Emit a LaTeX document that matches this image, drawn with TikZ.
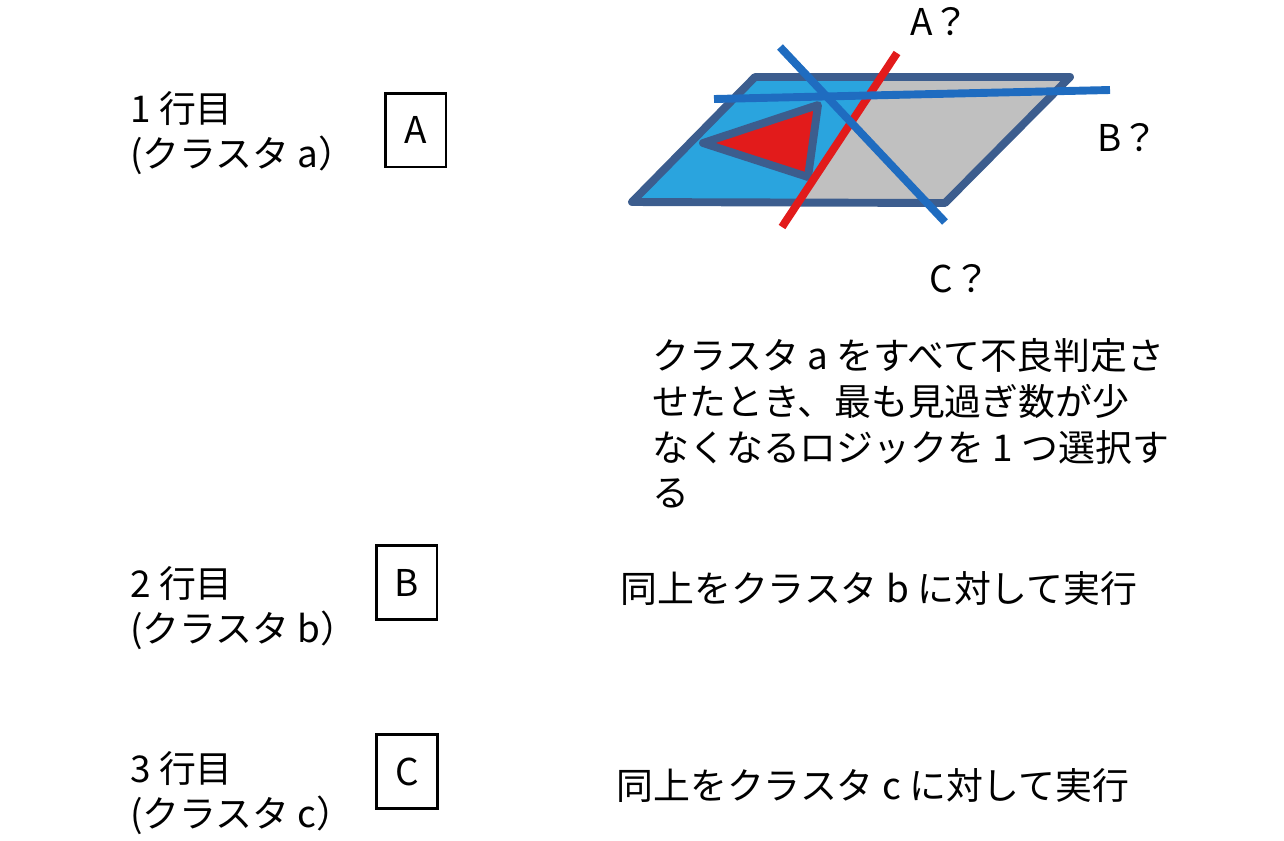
\documentclass[tikz,border=0pt]{standalone}
\usepackage{fontspec}
\setmainfont{Noto Sans CJK JP}
\definecolor{cblue}{HTML}{2AA4DE}
\definecolor{cgray}{HTML}{C0C0C0}
\definecolor{cedge}{HTML}{3C5D8E}
\definecolor{cline}{HTML}{1F6CC0}
\definecolor{cred}{HTML}{E21B1B}

\begin{document}
\begin{tikzpicture}[x=0.02cm,y=-0.02cm,txt/.style={inner sep=0pt,font=\fontsize{21}{26}\selectfont},rowlab/.style={txt,anchor=west,align=left},letterbox/.style={draw=black,line width=1.7pt,minimum width=1.22cm,minimum height=1.48cm,inner sep=0pt,font=\fontsize{21}{26}\selectfont},edge/.style={draw=cedge,line width=4.5pt,line join=round},cut/.style={line width=4.5pt}]
\useasboundingbox (0,0) rectangle (1284,840);

% left column
\node[rowlab] (r1) at (130,133) {1 行目\\(クラスタ a）};
\node[rowlab] (r2) at (130,608) {2 行目\\(クラスタ b）};
\node[rowlab] (r3) at (130,793) {3 行目\\(クラスタ c）};

\node[letterbox] (bA) at (415.5,130) {A};
\node[letterbox] (bB) at (406.5,582.5) {B};
\node[letterbox] (bC) at (407,771.5) {C};

% right column
\node[rowlab] (doA) at (652,423.5) {クラスタ a をすべて不良判定さ\\せたとき、最も見過ぎ数が少\\なくなるロジックを 1 つ選択す\\る};
\node[rowlab] (doB) at (620,588) {同上をクラスタ b に対して実行};
\node[rowlab] (doC) at (616,785) {同上をクラスタ c に対して実行};

% parallelogram
\coordinate (p1) at (632,202);
\coordinate (p2) at (755,77);
\coordinate (p3) at (1070,77);
\coordinate (p4) at (945,203);
\coordinate (sb) at (798.5,202);
\coordinate (st) at (881,77);
\fill[cblue] (p1) -- (sb) -- (st) -- (p2) -- cycle;
\fill[cgray] (sb) -- (st) -- (p3) -- (p4) -- cycle;
\draw[edge] (p1) -- (p2) -- (p3) -- (p4) -- cycle;
\draw[edge,fill=cred] (703,143) -- (818,105) -- (808,177) -- cycle;

% cuts
\coordinate (a1) at (782,227);
\coordinate (a2) at (897,53);
\coordinate (b1) at (714,99);
\coordinate (b2) at (1110,90);
\coordinate (c1) at (780,47);
\coordinate (c2) at (945,222);
\draw[cut,cred] (a1) -- (a2);
\draw[cut,cline] (b1) -- (b2);
\draw[cut,cline] (c1) -- (c2);

\node[txt] (qA) at (940,22) {A？};
\node[txt] (qB) at (1128,138) {B？};
\node[txt] (qC) at (960,279) {C？};

\end{tikzpicture}
\end{document}
